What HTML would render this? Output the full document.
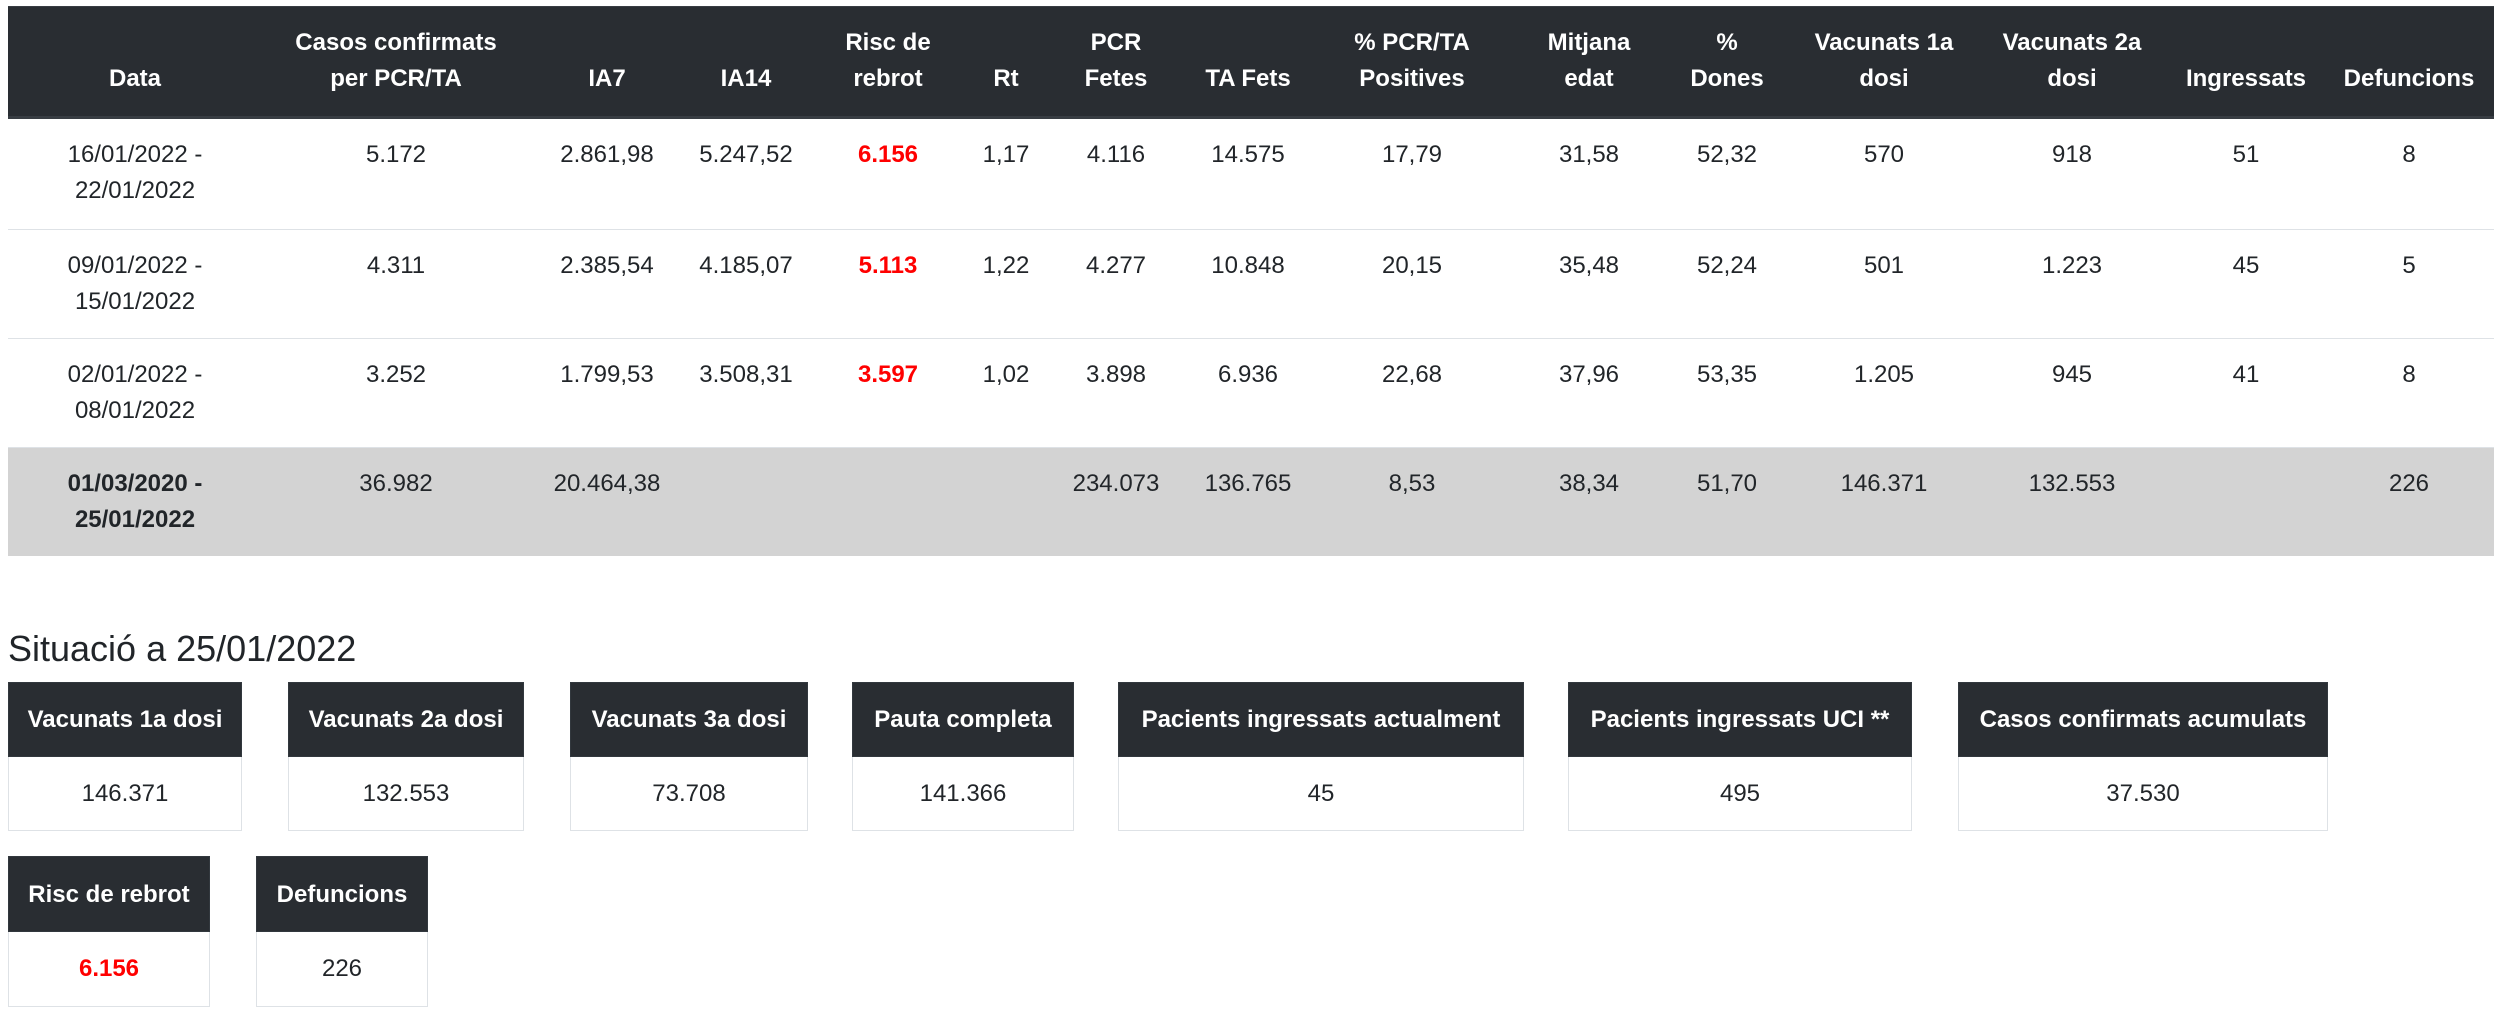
<!DOCTYPE html>
<html>
<head>
<meta charset="utf-8">
<style>
  html, body { margin:0; padding:0; background:#fff; }
  body { width:2502px; height:1018px; position:relative; overflow:hidden;
         font-family:"Liberation Sans", Arial, sans-serif; color:#212529; }
  table.main { position:absolute; left:8px; top:6px; width:2486px;
               table-layout:fixed; border-collapse:separate; border-spacing:0; }
  table.main th, table.main td { font-size:24px; line-height:36px; text-align:center;
               white-space:nowrap; padding:18px 2px; }
  table.main thead th { background:#292d32; color:#fff; font-weight:bold; vertical-align:bottom;
               border-top:1.5px solid #383d43; border-bottom:3px solid #383d43;
               padding-top:18px; padding-bottom:19px; }
  table.main tbody td, table.main tbody th { vertical-align:top; border-top:1.5px solid #dee2e6; font-weight:normal; }
  table.main tbody tr.first td { border-top:none; padding-bottom:19.5px; }
  table.main tbody tr.total td, table.main tbody tr.total th { background:#d3d3d3; }
  table.main tbody tr.total th { font-weight:bold; }
  table.main tbody td.red, .red { color:#ff0000; font-weight:bold; }
  h4 { position:absolute; left:8px; top:627px; margin:0; font-size:36px; line-height:43.2px;
       font-weight:normal; color:#212529; white-space:nowrap; }
  .card { position:absolute; }
  .card .hd { background:#292d32; color:#fff; font-weight:bold; font-size:24px; line-height:36px;
              text-align:center; white-space:nowrap; border:1.5px solid #32383e;
              box-sizing:border-box; height:75px; padding-top:19px; }
  .card .bd { font-size:24px; line-height:36px; text-align:center; white-space:nowrap;
              border:1.5px solid #dee2e6; border-top:none; box-sizing:border-box; height:74px; padding-top:19px; }
  .r2 .hd { height:76px; padding-top:20px; }
  .r2 .bd { height:75px; }
</style>
</head>
<body>
<table class="main">
  <colgroup>
    <col style="width:254px"><col style="width:268px"><col style="width:154px"><col style="width:124px">
    <col style="width:160px"><col style="width:76px"><col style="width:144px"><col style="width:120px">
    <col style="width:208px"><col style="width:146px"><col style="width:130px"><col style="width:184px">
    <col style="width:192px"><col style="width:156px"><col style="width:170px">
  </colgroup>
  <thead>
    <tr>
      <th>Data</th>
      <th>Casos confirmats<br>per PCR/TA</th>
      <th>IA7</th>
      <th>IA14</th>
      <th>Risc de<br>rebrot</th>
      <th>Rt</th>
      <th>PCR<br>Fetes</th>
      <th>TA Fets</th>
      <th>% PCR/TA<br>Positives</th>
      <th>Mitjana<br>edat</th>
      <th>%<br>Dones</th>
      <th>Vacunats 1a<br>dosi</th>
      <th>Vacunats 2a<br>dosi</th>
      <th>Ingressats</th>
      <th>Defuncions</th>
    </tr>
  </thead>
  <tbody>
    <tr class="first">
      <td>16/01/2022 -<br>22/01/2022</td>
      <td>5.172</td><td>2.861,98</td><td>5.247,52</td><td class="red">6.156</td><td>1,17</td>
      <td>4.116</td><td>14.575</td><td>17,79</td><td>31,58</td><td>52,32</td><td>570</td><td>918</td><td>51</td><td>8</td>
    </tr>
    <tr>
      <td>09/01/2022 -<br>15/01/2022</td>
      <td>4.311</td><td>2.385,54</td><td>4.185,07</td><td class="red">5.113</td><td>1,22</td>
      <td>4.277</td><td>10.848</td><td>20,15</td><td>35,48</td><td>52,24</td><td>501</td><td>1.223</td><td>45</td><td>5</td>
    </tr>
    <tr>
      <td>02/01/2022 -<br>08/01/2022</td>
      <td>3.252</td><td>1.799,53</td><td>3.508,31</td><td class="red">3.597</td><td>1,02</td>
      <td>3.898</td><td>6.936</td><td>22,68</td><td>37,96</td><td>53,35</td><td>1.205</td><td>945</td><td>41</td><td>8</td>
    </tr>
    <tr class="total">
      <th>01/03/2020 -<br>25/01/2022</th>
      <td>36.982</td><td>20.464,38</td><td></td><td></td><td></td>
      <td>234.073</td><td>136.765</td><td>8,53</td><td>38,34</td><td>51,70</td><td>146.371</td><td>132.553</td><td></td><td>226</td>
    </tr>
  </tbody>
</table>

<h4>Situació a 25/01/2022</h4>

<div class="card" style="left:8px;top:682px;width:234px;"><div class="hd">Vacunats 1a dosi</div><div class="bd">146.371</div></div>
<div class="card" style="left:288px;top:682px;width:236px;"><div class="hd">Vacunats 2a dosi</div><div class="bd">132.553</div></div>
<div class="card" style="left:570px;top:682px;width:238px;"><div class="hd">Vacunats 3a dosi</div><div class="bd">73.708</div></div>
<div class="card" style="left:852px;top:682px;width:222px;"><div class="hd">Pauta completa</div><div class="bd">141.366</div></div>
<div class="card" style="left:1118px;top:682px;width:406px;"><div class="hd">Pacients ingressats actualment</div><div class="bd">45</div></div>
<div class="card" style="left:1568px;top:682px;width:344px;"><div class="hd">Pacients ingressats UCI **</div><div class="bd">495</div></div>
<div class="card" style="left:1958px;top:682px;width:370px;"><div class="hd">Casos confirmats acumulats</div><div class="bd">37.530</div></div>

<div class="card r2" style="left:8px;top:856px;width:202px;"><div class="hd">Risc de rebrot</div><div class="bd"><span class="red">6.156</span></div></div>
<div class="card r2" style="left:256px;top:856px;width:172px;"><div class="hd">Defuncions</div><div class="bd">226</div></div>
</body>
</html>
